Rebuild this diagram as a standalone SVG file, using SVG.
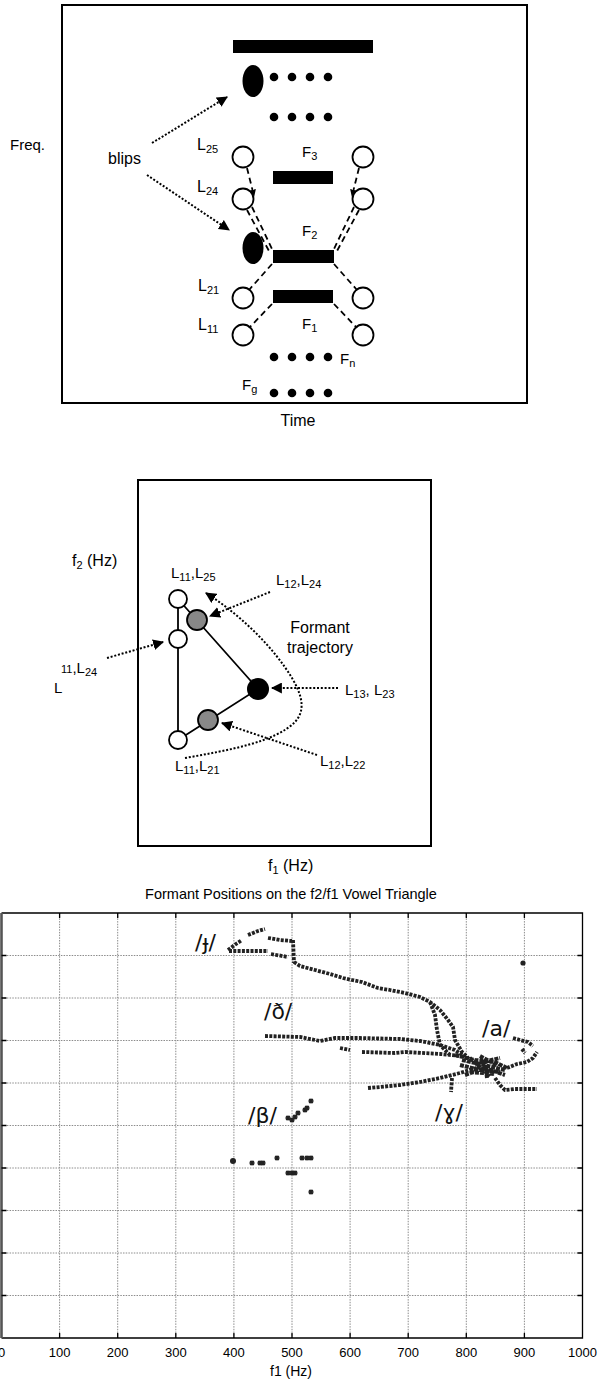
<svg xmlns="http://www.w3.org/2000/svg" width="599" height="1380" viewBox="0 0 599 1380">
<style>
.t{font-family:"Liberation Sans",Arial,sans-serif;fill:#000}
.ipa{font-family:"DejaVu Sans","Noto Sans",sans-serif;fill:#111;font-size:22px}
.box{fill:none;stroke:#000;stroke-width:2}
.dash{fill:none;stroke:#000;stroke-width:1.8;stroke-dasharray:6 4}
.dot{fill:none;stroke:#000;stroke-width:2;stroke-dasharray:2 1.8}
.wc{fill:#fff;stroke:#000;stroke-width:1.8}
.gc{fill:#888;stroke:#000;stroke-width:1.8}
.bar{fill:#000}
.grid{stroke:#8c8c8c;stroke-width:1;stroke-dasharray:1.5 1.2}
.ax{stroke:#000;stroke-width:1.3;fill:none}
.sc{fill:none;stroke:#222;stroke-width:3.8;stroke-dasharray:3 1.3}
.scd{fill:none;stroke:#222;stroke-width:4;stroke-linejoin:round;stroke-dasharray:4 1}
</style>
<defs>
<marker id="ah" viewBox="0 0 10 10" refX="9" refY="5" markerWidth="11" markerHeight="11" markerUnits="userSpaceOnUse" orient="auto"><path d="M0,0L10,5L0,10z" fill="#000"/></marker>
<marker id="ahs" viewBox="0 0 10 10" refX="9" refY="5" markerWidth="7" markerHeight="7" markerUnits="userSpaceOnUse" orient="auto"><path d="M0,0L10,5L0,10z" fill="#000"/></marker>
<g id="ast"><path d="M-2.6,0H2.6M0,-2.6V2.6M-1.9,-1.9L1.9,1.9M-1.9,1.9L1.9,-1.9" stroke="#222" stroke-width="1.4"/></g>
</defs>

<!-- ===== Panel 1: spectrogram sketch ===== -->
<g id="panel1">
<rect class="box" x="62" y="5" width="465" height="398"/>
<text class="t" x="10" y="150" font-size="15">Freq.</text>
<text class="t" x="298" y="426" font-size="16" text-anchor="middle">Time</text>
</g>
<g id="blips-label"><text class="t" x="108" y="164" font-size="16">blips</text></g>
<g id="bar-top"><rect class="bar" x="233" y="40" width="140" height="13"/></g>
<g id="blip-upper"><ellipse cx="253" cy="81" rx="10.5" ry="16" fill="#000"/></g>
<g id="dots-row1" fill="#000"><circle cx="274" cy="77" r="4.3"/><circle cx="292" cy="77" r="4.3"/><circle cx="310" cy="77" r="4.3"/><circle cx="328" cy="77" r="4.3"/></g>
<g id="dots-row2" fill="#000"><circle cx="274" cy="117" r="4.3"/><circle cx="292" cy="117" r="4.3"/><circle cx="310" cy="117" r="4.3"/><circle cx="328" cy="117" r="4.3"/></g>
<g id="L25"><circle class="wc" cx="243" cy="157" r="10.5"/><text class="t" x="197" y="150" font-size="16">L<tspan font-size="11" dy="3">25</tspan></text></g>
<g id="R25"><circle class="wc" cx="363" cy="157" r="10.5"/></g>
<g id="F3"><text class="t" x="302" y="157" font-size="15">F<tspan font-size="11" dy="3">3</tspan></text><rect class="bar" x="273" y="171" width="60" height="13"/></g>
<g id="L24"><circle class="wc" cx="243" cy="199" r="10.5"/><text class="t" x="197" y="192" font-size="16">L<tspan font-size="11" dy="3">24</tspan></text></g>
<g id="R24"><circle class="wc" cx="363" cy="199" r="10.5"/></g>
<g id="blip-lower"><ellipse cx="253" cy="248" rx="10.5" ry="16" fill="#000"/></g>
<g id="F2"><text class="t" x="302" y="236" font-size="15">F<tspan font-size="11" dy="3">2</tspan></text><rect class="bar" x="273" y="250" width="61" height="13"/></g>
<g id="L21"><circle class="wc" cx="243" cy="298" r="10.5"/><text class="t" x="198" y="291" font-size="16">L<tspan font-size="11" dy="3">21</tspan></text></g>
<g id="R21"><circle class="wc" cx="363" cy="298" r="10.5"/></g>
<g id="F1"><rect class="bar" x="273" y="290" width="60" height="13"/><text class="t" x="302" y="329" font-size="15">F<tspan font-size="11" dy="3">1</tspan></text></g>
<g id="L11"><circle class="wc" cx="243" cy="335" r="10.5"/><text class="t" x="198" y="330" font-size="16">L<tspan font-size="11" dy="3">11</tspan></text></g>
<g id="R11"><circle class="wc" cx="363" cy="335" r="10.5"/></g>
<g id="Fn"><g fill="#000"><circle cx="274" cy="357" r="4.3"/><circle cx="292" cy="357" r="4.3"/><circle cx="310" cy="357" r="4.3"/><circle cx="328" cy="357" r="4.3"/></g><text class="t" x="340" y="364" font-size="15">F<tspan font-size="11" dy="3">n</tspan></text></g>
<g id="Fg"><g fill="#000"><circle cx="274" cy="393" r="4.3"/><circle cx="292" cy="393" r="4.3"/><circle cx="310" cy="393" r="4.3"/><circle cx="328" cy="393" r="4.3"/></g><text class="t" x="242" y="390" font-size="15">F<tspan font-size="11" dy="3">g</tspan></text></g>

<g id="connectors1">
<path class="dot" d="M152,143L227,97" marker-end="url(#ah)"/>
<path class="dot" d="M147,175L229,230" marker-end="url(#ah)"/>
<path class="dash" d="M247,168L254,196" marker-end="url(#ahs)"/>
<path class="dash" d="M252,207L273,251"/>
<path class="dash" d="M247,210L269,251"/>
<path class="dash" d="M272,264L249,290"/>
<path class="dash" d="M272,304L249,328"/>
<path class="dash" d="M359,168L352,196" marker-end="url(#ahs)"/>
<path class="dash" d="M354,207L333,251"/>
<path class="dash" d="M359,210L337,251"/>
<path class="dash" d="M334,264L357,290"/>
<path class="dash" d="M334,304L357,328"/>
</g>

<!-- ===== Panel 2: vowel triangle sketch ===== -->
<g id="panel2">
<rect class="box" x="138" y="480" width="293" height="366"/>
<text class="t" x="72" y="566" font-size="16">f<tspan font-size="11" dy="3">2</tspan><tspan dy="-3"> (Hz)</tspan></text>
<text class="t" x="268" y="871" font-size="16">f<tspan font-size="11" dy="3">1</tspan><tspan dy="-3"> (Hz)</tspan></text>
</g>
<g id="triangle-edges">
<path d="M178,599V740" stroke="#000" stroke-width="1.8"/>
<path d="M178,599L258,689L178,740" fill="none" stroke="#000" stroke-width="1.8"/>
</g>
<g id="n-top"><circle class="wc" cx="178" cy="599" r="9"/></g>
<g id="n-mid"><circle class="wc" cx="178" cy="639" r="9"/></g>
<g id="n-bot"><circle class="wc" cx="178" cy="740" r="9"/></g>
<g id="n-gray1"><circle class="gc" cx="197" cy="620" r="10"/></g>
<g id="n-gray2"><circle class="gc" cx="208" cy="720" r="10"/></g>
<g id="n-black"><circle cx="258" cy="689" r="11" fill="#000"/></g>
<g id="lbl-L11L25"><text class="t" x="171" y="578" font-size="15">L<tspan font-size="11" dy="3">11</tspan><tspan dy="-3">,L</tspan><tspan font-size="11" dy="3">25</tspan></text></g>
<g id="lbl-L12L24"><text class="t" x="276" y="585" font-size="15">L<tspan font-size="11" dy="3">12</tspan><tspan dy="-3">,L</tspan><tspan font-size="11" dy="3">24</tspan></text></g>
<g id="lbl-formant"><text class="t" x="320" y="633" font-size="16" text-anchor="middle">Formant</text><text class="t" x="320" y="653" font-size="16" text-anchor="middle">trajectory</text></g>
<g id="lbl-L13L23"><text class="t" x="345" y="695" font-size="15">L<tspan font-size="11" dy="3">13</tspan><tspan dy="-3">, L</tspan><tspan font-size="11" dy="3">23</tspan></text></g>
<g id="lbl-L12L22"><text class="t" x="320" y="766" font-size="15">L<tspan font-size="11" dy="3">12</tspan><tspan dy="-3">,L</tspan><tspan font-size="11" dy="3">22</tspan></text></g>
<g id="lbl-L11L21"><text class="t" x="175" y="771" font-size="15">L<tspan font-size="11" dy="3">11</tspan><tspan dy="-3">,L</tspan><tspan font-size="11" dy="3">21</tspan></text></g>
<g id="lbl-L11L24"><text class="t" x="54" y="693" font-size="15">L</text><text class="t" x="61" y="673" font-size="11">11<tspan font-size="15">,L</tspan><tspan dy="3">24</tspan></text></g>

<g id="connectors2">
<path class="dot" d="M107,658L163,642" marker-end="url(#ah)"/>
<path class="dot" d="M270,592L210,616" marker-end="url(#ah)"/>
<path class="dot" d="M338,688L272,688" marker-end="url(#ah)"/>
<path class="dot" d="M317,755L222,723" marker-end="url(#ah)"/>
<path class="dot" d="M185,758C230,750 275,742 295,722C306,710 302,695 292,678C275,650 245,618 206,593" marker-end="url(#ah)"/>
</g>

<!-- ===== Panel 3: plot ===== -->
<g id="plot">
<text class="t" x="291" y="899" font-size="14.5" text-anchor="middle">Formant Positions on the f2/f1 Vowel Triangle</text>
<g id="grid">
<path class="grid" d="M59.6,913V1338M117.7,913V1338M175.8,913V1338M233.9,913V1338M292,913V1338M350.1,913V1338M408.2,913V1338M466.3,913V1338M524.4,913V1338"/>
<path class="grid" d="M1.5,955.5H582.5M1.5,998H582.5M1.5,1040.5H582.5M1.5,1083H582.5M1.5,1125.5H582.5M1.5,1168H582.5M1.5,1210.5H582.5M1.5,1253H582.5M1.5,1295.5H582.5"/>
</g>
<path class="ax" d="M1.5,913H582.5V1338H1.5"/>
<path d="M1.5,913V1338" stroke="#555" stroke-width="2.6"/>
<path class="ax" d="M1.5,955.5h5M1.5,998h5M1.5,1040.5h5M1.5,1083h5M1.5,1125.5h5M1.5,1168h5M1.5,1210.5h5M1.5,1253h5M1.5,1295.5h5M582.5,955.5h-5M582.5,998h-5M582.5,1040.5h-5M582.5,1083h-5M582.5,1125.5h-5M582.5,1168h-5M582.5,1210.5h-5M582.5,1253h-5M582.5,1295.5h-5"/>
<path class="ax" d="M59.6,1338v-5M117.7,1338v-5M175.8,1338v-5M233.9,1338v-5M292,1338v-5M350.1,1338v-5M408.2,1338v-5M466.3,1338v-5M524.4,1338v-5M59.6,913v5M117.7,913v5M175.8,913v5M233.9,913v5M292,913v5M350.1,913v5M408.2,913v5M466.3,913v5M524.4,913v5"/>
<g class="t" font-size="13" text-anchor="middle">
<text x="1.5" y="1357">0</text><text x="59.6" y="1357">100</text><text x="117.7" y="1357">200</text><text x="175.8" y="1357">300</text><text x="233.9" y="1357">400</text><text x="292" y="1357">500</text><text x="350.1" y="1357">600</text><text x="408.2" y="1357">700</text><text x="466.3" y="1357">800</text><text x="524.4" y="1357">900</text><text x="582.5" y="1357">1000</text>
</g>
<text class="t" x="291" y="1376" font-size="14" text-anchor="middle">f1 (Hz)</text>
</g>

<g id="scatter">
<path class="sc" d="M228,950L236,944L242,940M248,935L258,931L265,929M268,938L280,940L292,941M229,951L268,951M271,954L288,957"/>
<path class="sc" d="M293,940L294,963"/>
<path class="sc" d="M294,962L300,966L315,970L330,974L343,978L352,980L362,982L378,988L390,990L405,993L420,997L430,1002L440,1010L448,1020L453,1027L455,1040L462,1052L470,1060"/>
<path class="sc" d="M430,1002L435,1015L437,1030L440,1045L450,1055"/>
<path class="sc" d="M265,1036L300,1037L320,1041L335,1038L360,1038L400,1039L420,1041L440,1045L455,1050L465,1057"/>
<path class="sc" d="M340,1048L350,1050M362,1052L395,1053L405,1052L440,1054L462,1056"/>
<path class="scd" d="M455,1055L475,1060L495,1062L507,1068M460,1065L480,1070L500,1072M465,1075L485,1068L505,1075M470,1058L490,1076M480,1056L498,1066M462,1060L505,1070M475,1064L500,1058M470,1072L495,1074M485,1060L487,1078"/>
<path class="sc" d="M507,1068L517,1064L527,1062L533,1058L537,1052M513,1038L520,1040L528,1042L533,1046M522,1049L525,1053"/>
<path class="sc" d="M495,1078L500,1085L505,1090L515,1089L537,1089"/>
<path class="sc" d="M368,1088L380,1087L400,1085L420,1082L440,1078L460,1073L480,1067"/>
<path class="sc" d="M452,1078L451,1092"/>
<circle cx="523" cy="963" r="2.6" fill="#222"/>
<circle cx="233" cy="1161" r="3" fill="#222"/>
<use href="#ast" x="288" y="1118"/><use href="#ast" x="292" y="1120"/><use href="#ast" x="295" y="1117"/><use href="#ast" x="298" y="1113"/><use href="#ast" x="305" y="1110"/><use href="#ast" x="307" y="1108"/><use href="#ast" x="311" y="1101"/>
<use href="#ast" x="252" y="1163"/><use href="#ast" x="260" y="1163"/><use href="#ast" x="263" y="1163"/><use href="#ast" x="277" y="1158"/><use href="#ast" x="288" y="1173"/><use href="#ast" x="292" y="1173"/><use href="#ast" x="295" y="1173"/><use href="#ast" x="302" y="1158"/><use href="#ast" x="307" y="1158"/><use href="#ast" x="311" y="1158"/><use href="#ast" x="311" y="1192"/>
</g>
<g id="ipa-labels">
<text class="ipa" x="195" y="950">/ɟ/</text>
<text class="ipa" x="264" y="1019">/ð/</text>
<text class="ipa" x="482" y="1036">/a/</text>
<text class="ipa" x="248" y="1123">/β/</text>
<text class="ipa" x="435" y="1120">/ɣ/</text>
</g>
</svg>
